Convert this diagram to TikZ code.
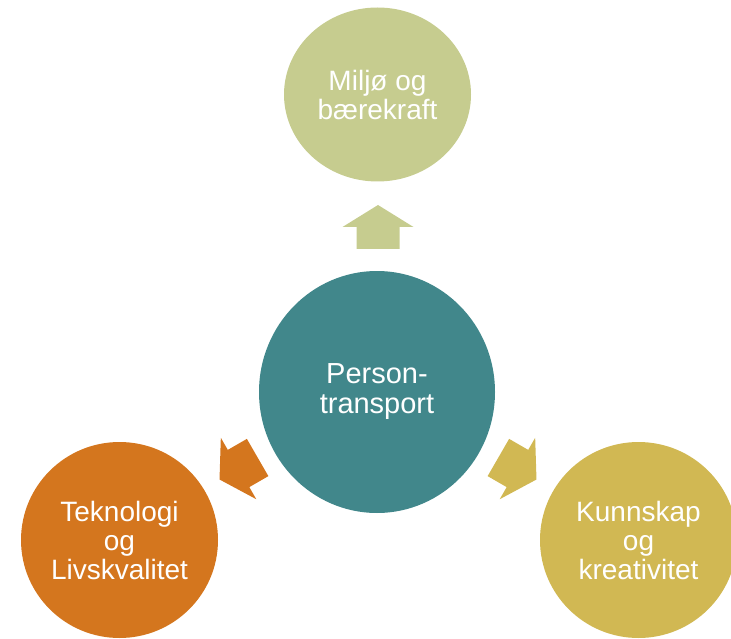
\documentclass[tikz,border=0pt]{standalone}
\usepackage{fontspec}
\setmainfont{Liberation Sans}
\usetikzlibrary{shapes.geometric}
\definecolor{miljo}{HTML}{C6CC8F}
\definecolor{person}{HTML}{41878B}
\definecolor{tekno}{HTML}{D4761E}
\definecolor{kunn}{HTML}{D1B853}
\tikzset{hub/.style={ellipse,inner sep=0pt,text=white,align=center,
    font=\fontsize{28}{29}\selectfont},
  mid/.style={font=\fontsize{29}{30}\selectfont}}

\begin{document}
\begin{tikzpicture}[x=1pt,y=-1pt]
\useasboundingbox (0,0) rectangle (731,639);
\node [hub,mid,fill=person,minimum width=236pt,minimum height=242pt] (p) at (377,392) {Person-\\transport};
\node [hub,fill=miljo,minimum width=187pt,minimum height=174pt] (m) at (377.5,94.5) {Milj\o{} og\\b\ae rekraft};
\node [hub,fill=tekno,minimum width=197pt,minimum height=196pt] (t) at (119.5,540) {Teknologi\\og\\Livskvalitet};
\node [hub,fill=kunn,minimum width=197pt,minimum height=196pt] (k) at (638.5,540) {Kunnskap\\og\\kreativitet};
% arrows out from the hub
\foreach \ang/\col in {0/miljo,120/tekno,-120/kunn}
  \fill [\col,shift={(378,388)},rotate=\ang] (-21.5,-139) -- (-21.5,-161) -- (-35.5,-161)
    -- (0,-183) -- (35.5,-161) -- (21.5,-161) -- (21.5,-139) -- cycle;
\end{tikzpicture}
\end{document}
